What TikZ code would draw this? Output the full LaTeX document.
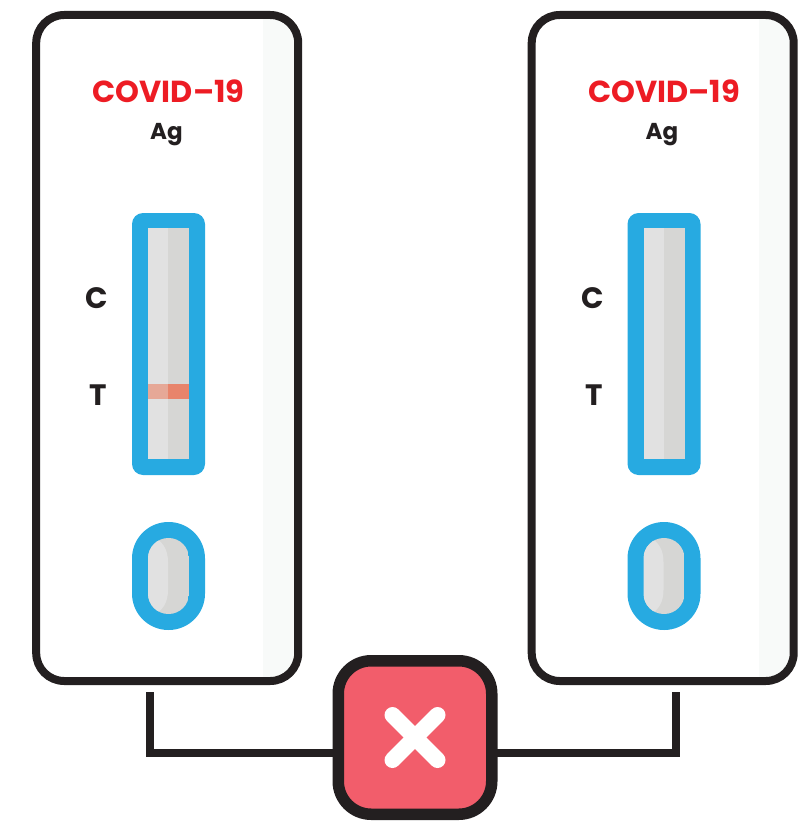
\documentclass[tikz,border=0pt]{standalone}
\usepackage{fontspec}
\setmainfont{Poppins}
\definecolor{ink}{HTML}{231F20}
\definecolor{bluecase}{HTML}{27AAE1}
\definecolor{titlered}{HTML}{ED1C24}
\definecolor{cardshade}{HTML}{F8FAF9}
\definecolor{stripL}{HTML}{E1E1E1}
\definecolor{stripR}{HTML}{D6D6D4}
\definecolor{bandL}{HTML}{E6A897}
\definecolor{bandR}{HTML}{E8846B}
\definecolor{verdictred}{HTML}{F25D6B}
\tikzset{
  cardbox/.style={draw=ink,line width=8pt,rounded corners=28pt,minimum width=262pt,minimum height=666pt,inner sep=0pt,outer sep=0pt},
  titletext/.style={text=titlered,font=\bfseries\fontsize{30.4}{30.4}\selectfont,inner sep=0pt},
  subtext/.style={text=ink,font=\bfseries\fontsize{23}{23}\selectfont,inner sep=0pt},
  lettertext/.style={text=ink,font=\bfseries\fontsize{29.5}{29.5}\selectfont,inner sep=0pt},
  bracketline/.style={draw=ink,line width=7.5pt,miter limit=10},
  verdictbox/.style={draw=ink,fill=verdictred,line width=11.5pt,rounded corners=33pt,minimum width=153.5pt,minimum height=153.5pt,inner sep=0pt,outer sep=0pt},
  crossarm/.style={draw=white,line width=16pt,line cap=round}
}
\newcommand{\bandfill}[1]{\ifnum#1=1
  \fill[bandL] (148,384) rectangle (168,399);
  \fill[bandR] (168,384) rectangle (189,399);
\fi}
\newcommand{\device}[2]{%
\begin{scope}[xshift=#2pt]
  \begin{scope}
    \clip[rounded corners=24pt] (40.3,19) rectangle (294,677);
    \fill[cardshade] (263,10) rectangle (300,690);
  \end{scope}
  \node[cardbox] (card#1) at (167.2,348) {};
  \node[titletext] (title#1) at (168.5,91) {COVID–19};
  \node[subtext] (ag#1) at (166.5,134.5) {Ag};
  \node[lettertext] (c#1) at (97,298.5) {C};
  \node[lettertext] (t#1) at (98.5,395) {T};
  \fill[bluecase,rounded corners=11pt] (132,213) rectangle (205,475);
  \fill[stripL] (148,228) rectangle (168,459);
  \fill[stripR] (168,228) rectangle (189,459);
  \bandfill{#1}
  \fill[bluecase,rounded corners=36.4pt] (132,522) rectangle (205,630);
  \begin{scope}
    \clip[rounded corners=20.4pt] (148,538) rectangle (189,614);
    \fill[stripR] (148,538) rectangle (189,614);
    \fill[stripL] (146,538) -- (155,538) .. controls (163,542) and (168,550) .. (168,562) -- (168,590) .. controls (168,602) and (163,610) .. (155,614) -- (146,614) -- cycle;
  \end{scope}
\end{scope}}
\begin{document}
\begin{tikzpicture}[x=1pt,y=-1pt]
  \useasboundingbox (0,0) rectangle (809,829);
  \device{1}{0}
  \device{2}{495.5}
  \coordinate (endL) at (150,692);
  \coordinate (endR) at (676,692);
  \coordinate (joinpt) at (415,753);
  \draw[bracketline] (endL) |- (joinpt);
  \draw[bracketline] (endR) |- (joinpt);
  \node[verdictbox] (verdict) at (415,737.5) {};
  \coordinate (xa) at (392.5,715);
  \coordinate (xb) at (437.5,760);
  \coordinate (xc) at (437.5,715);
  \coordinate (xd) at (392.5,760);
  \draw[crossarm] (xa) -- (xb);
  \draw[crossarm] (xc) -- (xd);
\end{tikzpicture}
\end{document}
